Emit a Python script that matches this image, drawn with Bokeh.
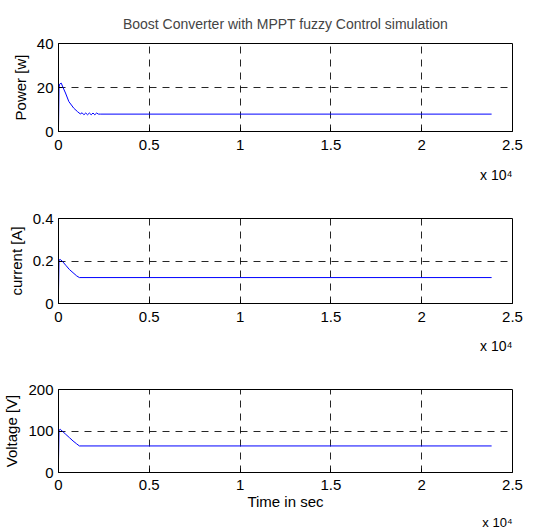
from bokeh.plotting import figure
from bokeh.layouts import column
from bokeh.models import FixedTicker, Range1d, Title
from bokeh.embed import file_html
from bokeh.resources import INLINE

# ---- data (time in seconds) ----
time_p = [0, 0, 30, 60, 150, 250, 385, 570, 840, 1050, 1200, 1300, 1400, 1500,
          1600, 1700, 1800, 1900, 2000, 2100, 2200, 2300, 23850]
power = [0, 2, 20, 21.5, 22, 20, 17.5, 13.6, 10.6, 9.0, 8.0, 8.5, 7.6, 8.4,
         7.6, 8.4, 7.6, 8.4, 7.6, 8.4, 7.9, 7.9, 7.9]

time_c = [0, 0, 30, 100, 200, 400, 600, 800, 1000, 1150, 23850]
current = [0, 0.06, 0.205, 0.207, 0.2, 0.18, 0.16, 0.145, 0.13, 0.122, 0.122]

time_v = [0, 0, 30, 100, 200, 400, 600, 800, 1000, 1150, 23850]
voltage = [0, 30, 102, 104, 100, 92, 84, 76, 69, 64, 64]

x_ticks = [0, 5000, 10000, 15000, 20000, 25000]
x_tick_labels = ["0", "0.5", "1", "1.5", "2", "2.5"]

FONT = "Liberation Sans"
FS = "15px"


def make_panel(t, y, ymax, yticks, ylabels, ylabel, fh, top, bottom,
               title=None, xlabel=None, exp_standoff=25, exp_size="14px"):
    p = figure(frame_width=454, frame_height=fh, output_backend="svg",
               toolbar_location=None, x_range=Range1d(0, 25000),
               y_range=Range1d(0, ymax), min_border_left=58,
               min_border_right=22, min_border_top=top,
               min_border_bottom=bottom)
    p.line(t, y, line_color="#0000ff", line_width=1)
    if title:
        p.title.text = title
        p.title.align = "center"
        p.title.text_font = FONT
        p.title.text_font_size = "14px"
        p.title.text_font_style = "normal"
        p.title.standoff = 23
    p.outline_line_color = "black"
    p.outline_line_width = 1
    p.outline_line_alpha = 1
    p.background_fill_color = "white"
    p.border_fill_color = "white"
    for ax in (p.xaxis[0], p.yaxis[0]):
        ax.axis_line_color = "black"
        ax.major_tick_in = 4
        ax.major_tick_out = 0
        ax.minor_tick_line_color = None
        ax.major_label_text_font = FONT
        ax.major_label_text_font_size = FS
        ax.major_label_text_color = "black"
        ax.axis_label_text_font = FONT
        ax.axis_label_text_font_size = FS
        ax.axis_label_text_font_style = "normal"
        ax.axis_label_text_color = "black"
    p.xaxis.ticker = FixedTicker(ticks=x_ticks)
    p.xaxis.major_label_overrides = {v: s for v, s in zip(x_ticks, x_tick_labels)}
    p.xaxis.major_label_standoff = 8
    p.yaxis.ticker = FixedTicker(ticks=yticks)
    p.yaxis.major_label_overrides = {v: s for v, s in zip(yticks, ylabels)}
    p.yaxis.major_label_standoff = 5
    p.yaxis.axis_label = ylabel
    p.yaxis.axis_label_standoff = 5
    if xlabel:
        p.xaxis.axis_label = xlabel
        p.xaxis.major_label_standoff = 7
        p.xaxis.axis_label_standoff = 0
    for g in (p.xgrid[0], p.ygrid[0]):
        g.grid_line_color = "black"
        g.grid_line_alpha = 0.85
        g.grid_line_dash = "7 6"
        g.grid_line_width = 1
    p.add_layout(Title(text="x 10\u2074", align="right", text_font=FONT,
                       text_font_size=exp_size, text_font_style="normal",
                       text_color="black", standoff=exp_standoff), "below")
    return p


p1 = make_panel(time_p, power, 40, [0, 20, 40], ["0", "20", "40"],
                "Power [w]", 88, 43, 60, exp_standoff=25,
                title="Boost Converter with MPPT fuzzy Control simulation")
p2 = make_panel(time_c, current, 0.4, [0, 0.2, 0.4], ["0", "0.2", "0.4"],
                "current [A]", 85, 23, 60, exp_standoff=23)
p3 = make_panel(time_v, voltage, 200, [0, 100, 200], ["0", "100", "200"],
                "Voltage [V]", 83, 24, 40, xlabel="Time in sec",
                exp_standoff=0, exp_size="13px")

layout = column(p1, p2, p3, spacing=0)
open("out.html", "w").write(file_html(layout, INLINE))
